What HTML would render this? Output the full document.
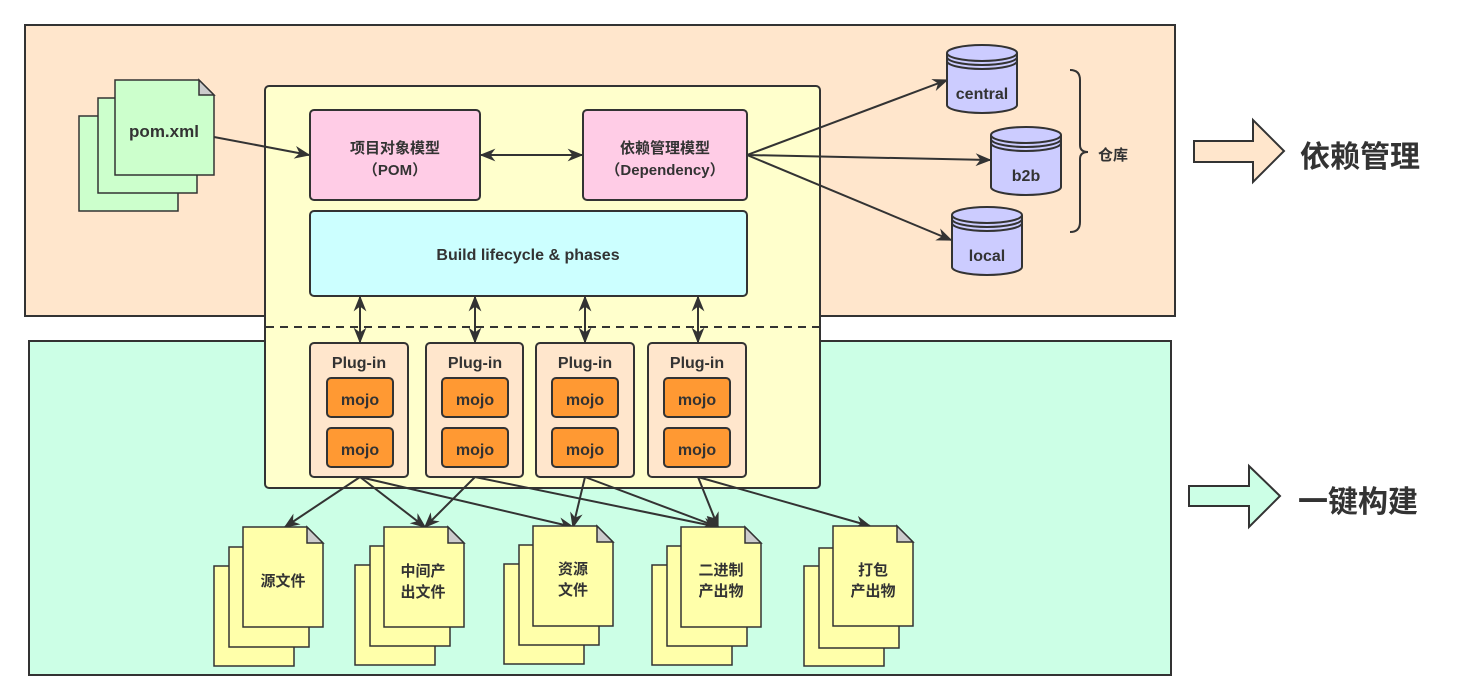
<!DOCTYPE html>
<html><head><meta charset="utf-8"><style>
html,body{margin:0;padding:0;background:#fff;}
svg{display:block;}
text{font-family:"Liberation Sans","Noto Sans CJK SC",sans-serif;font-weight:bold;fill:#333;}
</style></head><body>
<svg width="1470" height="700" viewBox="0 0 1470 700" xmlns="http://www.w3.org/2000/svg">
<defs>
<marker id="ah" viewBox="0 0 10 10" refX="9" refY="5" markerWidth="16" markerHeight="16" orient="auto-start-reverse" markerUnits="userSpaceOnUse">
<path d="M0,1 L10,5 L0,9 L3,5 z" fill="#333"/></marker>
</defs>
<g stroke="#333" stroke-width="2">
<rect x="25" y="25" width="1150" height="291" fill="#ffe6cc"/>
<rect x="29" y="341" width="1142" height="334" fill="#ccffe6"/>
<rect x="265" y="86" width="555" height="402" rx="4" fill="#ffffcc"/>
</g>
<line x1="266" y1="327" x2="819" y2="327" stroke="#333" stroke-width="2" stroke-dasharray="8,6"/>

<g stroke="#333" stroke-width="1.5" fill="#ccffcc">
<rect x="79" y="116" width="99" height="95"/>
<rect x="98" y="98" width="99" height="95"/>
<path d="M115,80 H199 L214,95 V175 H115 Z"/>
<path d="M199,80 V95 H214 Z" fill="#ccc"/>
</g>
<text x="164" y="137" font-size="17" text-anchor="middle">pom.xml</text>

<g stroke="#333" stroke-width="2">
<rect x="310" y="110" width="170" height="90" rx="4" fill="#ffcce6"/>
<rect x="583" y="110" width="164" height="90" rx="4" fill="#ffcce6"/>
<rect x="310" y="211" width="437" height="85" rx="4" fill="#ccffff"/>
</g>
<text x="395" y="153" font-size="15" text-anchor="middle">项目对象模型</text>
<text x="395" y="175" font-size="15" text-anchor="middle">（POM）</text>
<text x="665" y="153" font-size="15" text-anchor="middle">依赖管理模型</text>
<text x="665" y="175" font-size="15" text-anchor="middle">（Dependency）</text>
<text x="528" y="260" font-size="16" text-anchor="middle">Build lifecycle &amp; phases</text>

<g stroke="#333" stroke-width="2">
<rect x="310" y="343" width="98" height="134" rx="4" fill="#ffe6cc"/>
<rect x="426" y="343" width="97" height="134" rx="4" fill="#ffe6cc"/>
<rect x="536" y="343" width="98" height="134" rx="4" fill="#ffe6cc"/>
<rect x="648" y="343" width="98" height="134" rx="4" fill="#ffe6cc"/>
<g fill="#ff9933">
<rect x="327" y="378" width="66" height="39" rx="4"/><rect x="327" y="428" width="66" height="39" rx="4"/>
<rect x="442" y="378" width="66" height="39" rx="4"/><rect x="442" y="428" width="66" height="39" rx="4"/>
<rect x="552" y="378" width="66" height="39" rx="4"/><rect x="552" y="428" width="66" height="39" rx="4"/>
<rect x="664" y="378" width="66" height="39" rx="4"/><rect x="664" y="428" width="66" height="39" rx="4"/>
</g></g>
<g font-size="16" text-anchor="middle">
<text x="359" y="368">Plug-in</text><text x="475" y="368">Plug-in</text><text x="585" y="368">Plug-in</text><text x="697" y="368">Plug-in</text>
<text x="360" y="405">mojo</text><text x="360" y="455">mojo</text>
<text x="475" y="405">mojo</text><text x="475" y="455">mojo</text>
<text x="585" y="405">mojo</text><text x="585" y="455">mojo</text>
<text x="697" y="405">mojo</text><text x="697" y="455">mojo</text>
</g>

<g stroke="#333" stroke-width="2" fill="none">
<line x1="214" y1="137" x2="309" y2="155" marker-end="url(#ah)"/>
<line x1="481" y1="155" x2="582" y2="155" marker-start="url(#ah)" marker-end="url(#ah)"/>
<line x1="747" y1="155" x2="947" y2="80" marker-end="url(#ah)"/>
<line x1="747" y1="155" x2="990" y2="160" marker-end="url(#ah)"/>
<line x1="747" y1="155" x2="951" y2="240" marker-end="url(#ah)"/>
<line x1="360" y1="297" x2="360" y2="342" marker-start="url(#ah)" marker-end="url(#ah)"/>
<line x1="475" y1="297" x2="475" y2="342" marker-start="url(#ah)" marker-end="url(#ah)"/>
<line x1="585" y1="297" x2="585" y2="342" marker-start="url(#ah)" marker-end="url(#ah)"/>
<line x1="698" y1="297" x2="698" y2="342" marker-start="url(#ah)" marker-end="url(#ah)"/>
<line x1="360" y1="477" x2="285" y2="527" marker-end="url(#ah)"/>
<line x1="360" y1="477" x2="425" y2="527" marker-end="url(#ah)"/>
<line x1="360" y1="477" x2="573" y2="527" marker-end="url(#ah)"/>
<line x1="475" y1="477" x2="425" y2="527" marker-end="url(#ah)"/>
<line x1="475" y1="477" x2="718" y2="527" marker-end="url(#ah)"/>
<line x1="585" y1="477" x2="573" y2="527" marker-end="url(#ah)"/>
<line x1="585" y1="477" x2="718" y2="527" marker-end="url(#ah)"/>
<line x1="698" y1="477" x2="718" y2="527" marker-end="url(#ah)"/>
<line x1="698" y1="477" x2="870" y2="526" marker-end="url(#ah)"/>
</g>

<g stroke="#333" stroke-width="2" fill="#ccccff">
<g transform="translate(947,45)">
<path d="M0,8 A35,8 0 0 1 70,8 V60 A35,8 0 0 1 0,60 Z"/>
<path d="M0,8 A35,8 0 0 0 70,8 M0,12 A35,8 0 0 0 70,12 M0,16 A35,8 0 0 0 70,16" fill="none"/>
</g>
<g transform="translate(991,127)">
<path d="M0,8 A35,8 0 0 1 70,8 V60 A35,8 0 0 1 0,60 Z"/>
<path d="M0,8 A35,8 0 0 0 70,8 M0,12 A35,8 0 0 0 70,12 M0,16 A35,8 0 0 0 70,16" fill="none"/>
</g>
<g transform="translate(952,207)">
<path d="M0,8 A35,8 0 0 1 70,8 V60 A35,8 0 0 1 0,60 Z"/>
<path d="M0,8 A35,8 0 0 0 70,8 M0,12 A35,8 0 0 0 70,12 M0,16 A35,8 0 0 0 70,16" fill="none"/>
</g>
</g>
<g font-size="16" text-anchor="middle">
<text x="982" y="99">central</text><text x="1026" y="181">b2b</text><text x="987" y="261">local</text>
</g>
<path d="M1070,70 Q1080,70 1080,80 V145 Q1080,152 1088,152 Q1080,152 1080,159 V222 Q1080,232 1070,232" fill="none" stroke="#333" stroke-width="2"/>
<text x="1098" y="160" font-size="15">仓库</text>

<path d="M1194,141 H1253 V120 L1284,151 L1253,182 V162 H1194 Z" fill="#ffe6cc" stroke="#333" stroke-width="2"/>
<text x="1300" y="167" font-size="30">依赖管理</text>
<path d="M1189,486 H1249 V466 L1280,496 L1249,527 V506 H1189 Z" fill="#ccffe6" stroke="#333" stroke-width="2"/>
<text x="1298" y="512" font-size="30">一键构建</text>

<g stroke="#333" stroke-width="1.5" fill="#ffffaa">
<g transform="translate(243,527)"><rect x="-29" y="39" width="80" height="100"/><rect x="-14" y="20" width="80" height="100"/><path d="M0,0 H64 L80,16 V100 H0 Z"/><path d="M64,0 V16 H80 Z" fill="#ccc"/></g>
<g transform="translate(384,527)"><rect x="-29" y="38" width="80" height="100"/><rect x="-14" y="19" width="80" height="100"/><path d="M0,0 H64 L80,16 V100 H0 Z"/><path d="M64,0 V16 H80 Z" fill="#ccc"/></g>
<g transform="translate(533,526)"><rect x="-29" y="38" width="80" height="100"/><rect x="-14" y="19" width="80" height="100"/><path d="M0,0 H64 L80,16 V100 H0 Z"/><path d="M64,0 V16 H80 Z" fill="#ccc"/></g>
<g transform="translate(681,527)"><rect x="-29" y="38" width="80" height="100"/><rect x="-14" y="19" width="80" height="100"/><path d="M0,0 H64 L80,16 V100 H0 Z"/><path d="M64,0 V16 H80 Z" fill="#ccc"/></g>
<g transform="translate(833,526)"><rect x="-29" y="40" width="80" height="100"/><rect x="-14" y="22" width="80" height="100"/><path d="M0,0 H64 L80,16 V100 H0 Z"/><path d="M64,0 V16 H80 Z" fill="#ccc"/></g>
</g>
<g font-size="15" text-anchor="middle">
<text x="283" y="586">源文件</text>
<text x="423" y="576">中间产</text><text x="423" y="597">出文件</text>
<text x="573" y="574">资源</text><text x="573" y="595">文件</text>
<text x="721" y="575">二进制</text><text x="721" y="596">产出物</text>
<text x="873" y="575">打包</text><text x="873" y="596">产出物</text>
</g>
</svg>
</body></html>
